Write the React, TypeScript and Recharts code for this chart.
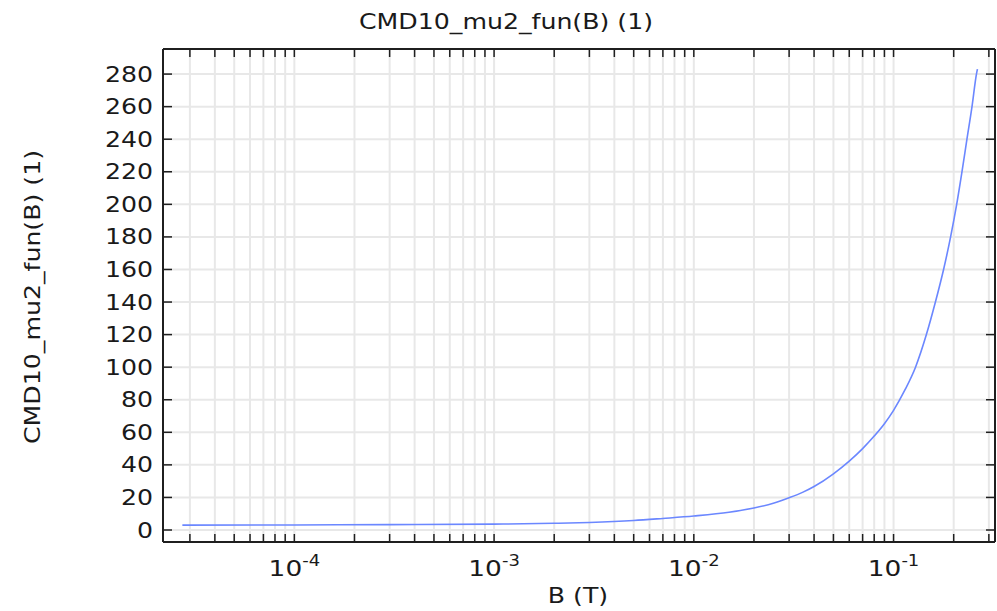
import { LineChart, Line, XAxis, YAxis, CartesianGrid } from 'recharts';

// B (T) samples and function values
const bValues = [
  2.75e-5, 1e-4, 3e-4, 1e-3, 2e-3, 3e-3, 5e-3, 7e-3, 1e-2, 1.5e-2, 2e-2, 2.5e-2, 3e-2,
  3.5e-2, 4e-2, 5e-2, 6e-2, 7e-2, 8e-2, 9e-2, 0.1, 0.114, 0.1288, 0.146, 0.162, 0.178,
  0.193, 0.207, 0.22, 0.233, 0.247, 0.26, 0.263,
];
const muValues = [
  3.0, 3.1, 3.3, 3.6, 4.1, 4.6, 5.8, 7.1, 8.6, 10.9, 13.5, 16.4, 19.8,
  23.1, 26.7, 34.5, 42.3, 50, 57.7, 65.3, 73.5, 86, 100, 120, 140, 160,
  180, 200, 220, 240, 260, 280, 283,
];

const xTicks = [
  3e-5, 4e-5, 5e-5, 6e-5, 7e-5, 8e-5, 9e-5,
  1e-4, 2e-4, 3e-4, 4e-4, 5e-4, 6e-4, 7e-4, 8e-4, 9e-4,
  1e-3, 2e-3, 3e-3, 4e-3, 5e-3, 6e-3, 7e-3, 8e-3, 9e-3,
  1e-2, 2e-2, 3e-2, 4e-2, 5e-2, 6e-2, 7e-2, 8e-2, 9e-2,
  0.1, 0.2, 0.3,
];
const yTicks = [0, 20, 40, 60, 80, 100, 120, 140, 160, 180, 200, 220, 240, 260, 280];

const title = 'CMD10_mu2_fun(B) (1)';
const yLabel = 'CMD10_mu2_fun(B) (1)';
const xLabel = 'B (T)';

const data = bValues.map((b, i) => ({ b, mu: muValues[i] }));

const FONT = '"DejaVu Sans", sans-serif';
const TEXT = '#1a1a1a';
const FRAME = '#1f1f1f';
const STRETCH = 1.2;

function YTick(props: any) {
  const { x, y, payload } = props;
  return (
    <text
      transform={`translate(${x},${y}) scale(${STRETCH},1)`}
      textAnchor="end"
      dy="0.36em"
      fontSize={21}
      fontFamily={FONT}
      fill={TEXT}
    >
      {payload.value}
    </text>
  );
}

function XTick(props: any) {
  const { x, y, payload } = props;
  const e = Math.log10(payload.value);
  if (Math.abs(e - Math.round(e)) > 1e-6) return <g />;
  return (
    <text
      transform={`translate(${x},${y}) scale(${STRETCH},1)`}
      textAnchor="middle"
      fontSize={22}
      fontFamily={FONT}
      fill={TEXT}
    >
      <tspan>10</tspan>
      <tspan dy={-10} fontSize={15}>{Math.round(e)}</tspan>
    </text>
  );
}

const blank = () => '';
const frameLine = { stroke: FRAME, strokeWidth: 2 };
const tickStroke = { stroke: FRAME, strokeWidth: 1.5 };

export default function App() {
  return (
    <div style={{ position: 'absolute', left: 0, top: 0, width: 997, height: 611, background: '#fff' }}>
      <div
        style={{
          position: 'absolute', left: 506, top: 22, fontFamily: FONT, fontSize: 21, color: TEXT,
          whiteSpace: 'nowrap', transform: `translate(-50%, -50%) scaleX(${STRETCH})`,
        }}
      >
        {title}
      </div>
      <div
        style={{
          position: 'absolute', left: 33, top: 297, fontFamily: FONT, fontSize: 21, color: TEXT,
          whiteSpace: 'nowrap', transform: `translate(-50%, -50%) rotate(-90deg) scaleX(${STRETCH})`,
        }}
      >
        {yLabel}
      </div>
      <div
        style={{
          position: 'absolute', left: 578, top: 596, fontFamily: FONT, fontSize: 21, color: TEXT,
          whiteSpace: 'nowrap', transform: `translate(-50%, -50%) scaleX(${STRETCH})`,
        }}
      >
        {xLabel}
      </div>
      <div style={{ position: 'absolute', left: 0, top: 0 }}>
        <LineChart width={997} height={611} data={data} margin={{ top: 48, right: 1, bottom: 68, left: 0 }}>
          <CartesianGrid stroke="#e8e8e8" strokeWidth={2} />
          <XAxis
            dataKey="b"
            type="number"
            scale="log"
            domain={[2.2e-5, 0.322]}
            allowDataOverflow
            ticks={xTicks}
            interval={0}
            height={1}
            tickSize={-8}
            tickMargin={42}
            tick={<XTick />}
            axisLine={frameLine}
            tickLine={tickStroke}
          />
          <XAxis
            xAxisId="top"
            orientation="top"
            dataKey="b"
            type="number"
            scale="log"
            domain={[2.2e-5, 0.322]}
            allowDataOverflow
            ticks={xTicks}
            interval={0}
            height={1}
            tickSize={-8}
            tickFormatter={blank}
            axisLine={frameLine}
            tickLine={tickStroke}
          />
          <YAxis
            type="number"
            domain={[-7.37, 295.4]}
            allowDataOverflow
            ticks={yTicks}
            interval={0}
            width={163}
            tickSize={-9}
            tickMargin={19}
            tick={<YTick />}
            axisLine={frameLine}
            tickLine={tickStroke}
          />
          <YAxis
            yAxisId="right"
            orientation="right"
            type="number"
            domain={[-7.37, 295.4]}
            allowDataOverflow
            ticks={yTicks}
            interval={0}
            width={1}
            tickSize={-9}
            tickFormatter={blank}
            axisLine={frameLine}
            tickLine={tickStroke}
          />
          <Line
            dataKey="mu"
            type="monotone"
            stroke="#6b87ff"
            strokeWidth={1.6}
            dot={false}
            isAnimationActive={false}
          />
        </LineChart>
      </div>
    </div>
  );
}
